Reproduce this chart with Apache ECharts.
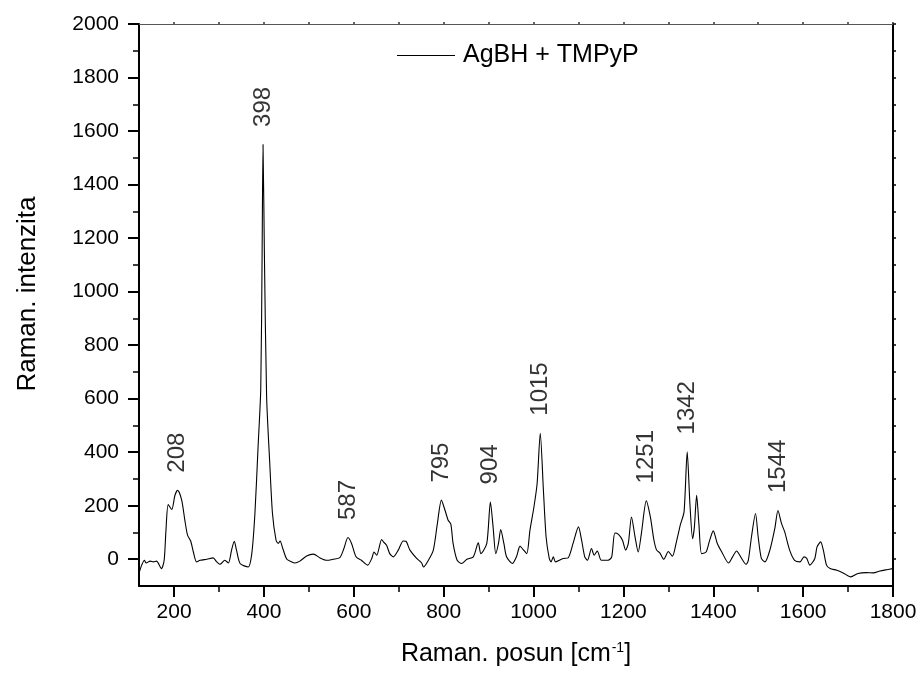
<!DOCTYPE html>
<html>
<head>
<meta charset="utf-8">
<script src="https://cdn.jsdelivr.net/npm/echarts@6/dist/echarts.min.js"></script>
<style>
  html, body { margin: 0; padding: 0; background: #fff; }
  #chart { width: 921px; height: 674px; }
</style>
</head>
<body>
<div id="chart"></div>
<script>
// Raman spectrum of AgBH + TMPyP
const ramanShift = [
  123, 128, 134, 138, 147, 154, 161, 172, 178, 182, 187, 195, 202, 208, 217, 224, 230, 237, 243, 250,
  258, 273, 287, 295, 302, 313, 321, 328, 334, 339, 347, 365, 373, 380, 387, 393, 396, 398, 401, 406,
  413, 419, 427, 432, 436, 442, 451, 462, 469, 480, 495, 510, 525, 540, 554, 569, 578, 587, 595, 605,
  617, 631, 640, 645, 651, 662, 666, 673, 680, 688, 699, 710, 716, 725, 740, 751, 755, 766, 777, 786,
  795, 803, 810, 816, 821, 830, 840, 851, 866, 877, 883, 896, 904, 910, 916, 922, 927, 934, 940, 953,
  962, 970, 977, 985, 992, 1001, 1008, 1015, 1022, 1028, 1035, 1039, 1044, 1049, 1066, 1077, 1088, 1100, 1107, 1114,
  1120, 1129, 1135, 1142, 1151, 1166, 1174, 1181, 1189, 1198, 1205, 1211, 1218, 1226, 1233, 1240, 1251, 1260, 1268, 1274,
  1281, 1290, 1300, 1309, 1318, 1327, 1335, 1342, 1348, 1354, 1358, 1363, 1368, 1374, 1384, 1391, 1400, 1409, 1419, 1434,
  1443, 1452, 1461, 1473, 1478, 1485, 1494, 1500, 1507, 1515, 1526, 1537, 1544, 1552, 1559, 1570, 1581, 1593, 1602, 1608,
  1615, 1626, 1631, 1639, 1645, 1652, 1660, 1675, 1689, 1706, 1722, 1741, 1756, 1771, 1786, 1799
];
const intensity = [
  -47, -22, -4, -14, -7, -10, -7, -35, -4, 108, 204, 186, 239, 258, 221, 146, 90, 68, 27, -10,
  -4, 0, 5, -10, -19, -4, -14, 34, 67, 34, -16, -29, 21, 172, 420, 640, 1150, 1550, 1150, 607,
  359, 172, 71, 59, 68, 40, 0, -10, -14, -7, 12, 19, 5, -4, 0, 6, 40, 81, 59, 9,
  -4, -22, 3, 27, 15, 74, 65, 52, 21, 9, 34, 68, 67, 34, 3, -14, -29, -4, 34, 133,
  221, 183, 146, 131, 59, -4, -16, -1, 9, 61, 21, 59, 214, 121, 21, 59, 111, 59, 9, -16,
  9, 49, 36, 21, 108, 196, 283, 471, 258, 83, 3, -10, 9, -10, 3, 5, 59, 121, 71, 9,
  -4, 40, 15, 31, -4, -4, 9, 98, 93, 71, 34, 59, 158, 83, 27, 96, 218, 158, 71, 34,
  24, 0, 29, 11, 65, 130, 177, 401, 208, 77, 121, 239, 133, 21, 27, 65, 106, 59, 27, -14,
  9, 31, 9, -19, -4, 83, 171, 83, 3, -10, 34, 115, 182, 133, 102, 34, -4, -10, 9, 3,
  -22, 3, 46, 65, 34, -22, -35, -41, -51, -66, -53, -50, -51, -44, -39, -35
];

// Annotated band positions and their intensities
const peakPositions = [208, 398, 587, 795, 904, 1015, 1251, 1342, 1544];
const peakIntensities = [258, 1550, 81, 221, 214, 471, 218, 401, 182];

// Axis ticks
const xMajorTicks = [200, 400, 600, 800, 1000, 1200, 1400, 1600, 1800];
const xMinorTicks = [300, 500, 700, 900, 1100, 1300, 1500, 1700];
const yMajorTicks = [0, 200, 400, 600, 800, 1000, 1200, 1400, 1600, 1800, 2000];
const yMinorTicks = [100, 300, 500, 700, 900, 1100, 1300, 1500, 1700, 1900];

const seriesName = 'AgBH + TMPyP';
const FONT = '"Liberation Sans", Arial, sans-serif';
const X_MIN = 122, X_MAX = 1800, Y_MIN = -100, Y_MAX = 2000;

const spectrum = ramanShift.map((x, i) => [x, intensity[i]]);
const peaks = peakPositions.map((x, i) => [x, peakIntensities[i]]);
const allX = xMajorTicks.concat(xMinorTicks).sort((a, b) => a - b);
const allY = yMajorTicks.concat(yMinorTicks).sort((a, b) => a - b);
const plain = v => String(v);

function baseX(extra) {
  return Object.assign({
    type: 'value', min: X_MIN, max: X_MAX, gridIndex: 0,
    splitLine: { show: false },
    axisLine: { show: false, onZero: false },
    axisTick: { show: false },
    axisLabel: { show: false }
  }, extra);
}
function baseY(extra) {
  return Object.assign({
    type: 'value', min: Y_MIN, max: Y_MAX, gridIndex: 0,
    splitLine: { show: false },
    axisLine: { show: false, onZero: false },
    axisTick: { show: false },
    axisLabel: { show: false }
  }, extra);
}

const chart = echarts.init(document.getElementById('chart'), null, { renderer: 'canvas' });
chart.setOption({
  animation: false,
  backgroundColor: '#fff',
  textStyle: { fontFamily: FONT },
  grid: { left: 139, right: 28, top: 24, bottom: 88, outerBoundsMode: 'none' },
  legend: {
    data: [{ name: seriesName, icon: 'rect' }],
    left: 392, top: 38,
    itemWidth: 58, itemHeight: 1.2, itemGap: 0,
    itemStyle: { color: '#000', borderWidth: 0 },
    textStyle: { fontFamily: FONT, fontSize: 25, color: '#000', padding: [0, 0, 0, 3] }
  },
  xAxis: [
    baseX({
      position: 'bottom',
      axisLine: { show: true, onZero: false, lineStyle: { color: '#000', width: 2 } },
      axisTick: { show: true, inside: false, length: 11, customValues: xMajorTicks, lineStyle: { color: '#000', width: 2 } },
      axisLabel: { show: true, customValues: xMajorTicks, formatter: plain, margin: 16, fontSize: 21, color: '#000', fontFamily: FONT },
      name: 'Raman. posun [cm{sup|-1}]',
      nameLocation: 'middle',
      nameGap: 55,
      nameTextStyle: {
        fontFamily: FONT, fontSize: 25, color: '#000',
        rich: { sup: { fontFamily: FONT, fontSize: 14, color: '#000', verticalAlign: 'top', padding: [0, 0, 12, 1] } }
      }
    }),
    baseX({
      position: 'bottom',
      axisTick: { show: true, inside: false, length: 6, customValues: xMinorTicks, lineStyle: { color: '#000', width: 1.5 } }
    }),
    baseX({
      position: 'top',
      axisLine: { show: true, onZero: false, lineStyle: { color: '#555', width: 1.2 } },
      axisTick: { show: true, inside: false, length: 2, customValues: allX, lineStyle: { color: '#333', width: 1.5 } }
    })
  ],
  yAxis: [
    baseY({
      position: 'left',
      axisLine: { show: true, onZero: false, lineStyle: { color: '#000', width: 2 } },
      axisTick: { show: true, inside: false, length: 11, customValues: yMajorTicks, lineStyle: { color: '#000', width: 2 } },
      axisLabel: { show: true, customValues: yMajorTicks, formatter: plain, margin: 20, fontSize: 21, color: '#000', fontFamily: FONT },
      name: 'Raman. intenzita',
      nameLocation: 'middle',
      nameGap: 98,
      nameTextStyle: { fontFamily: FONT, fontSize: 26, color: '#000', padding: [0, 0, 0, 22] }
    }),
    baseY({
      position: 'left',
      axisTick: { show: true, inside: false, length: 6, customValues: yMinorTicks, lineStyle: { color: '#000', width: 1.5 } }
    }),
    baseY({
      position: 'right',
      axisLine: { show: true, onZero: false, lineStyle: { color: '#000', width: 2 } },
      axisTick: { show: true, inside: false, length: 3, customValues: allY, lineStyle: { color: '#000', width: 1.5 } }
    })
  ],
  series: [
    {
      name: seriesName,
      type: 'line',
      xAxisIndex: 0, yAxisIndex: 0,
      data: spectrum,
      symbol: 'none',
      smooth: 0.25,
      lineStyle: { color: '#000', width: 1.1 },
      itemStyle: { color: '#000' }
    },
    {
      name: 'bands',
      type: 'scatter',
      xAxisIndex: 0, yAxisIndex: 0,
      data: peaks,
      symbolSize: 1,
      itemStyle: { color: 'rgba(0,0,0,0)' },
      silent: true,
      label: {
        show: true,
        position: 'top',
        distance: 17,
        rotate: 90,
        align: 'left',
        verticalAlign: 'middle',
        fontFamily: FONT,
        fontSize: 24,
        color: '#000',
        formatter: p => String(p.value[0])
      }
    }
  ]
});
</script>
</body>
</html>
